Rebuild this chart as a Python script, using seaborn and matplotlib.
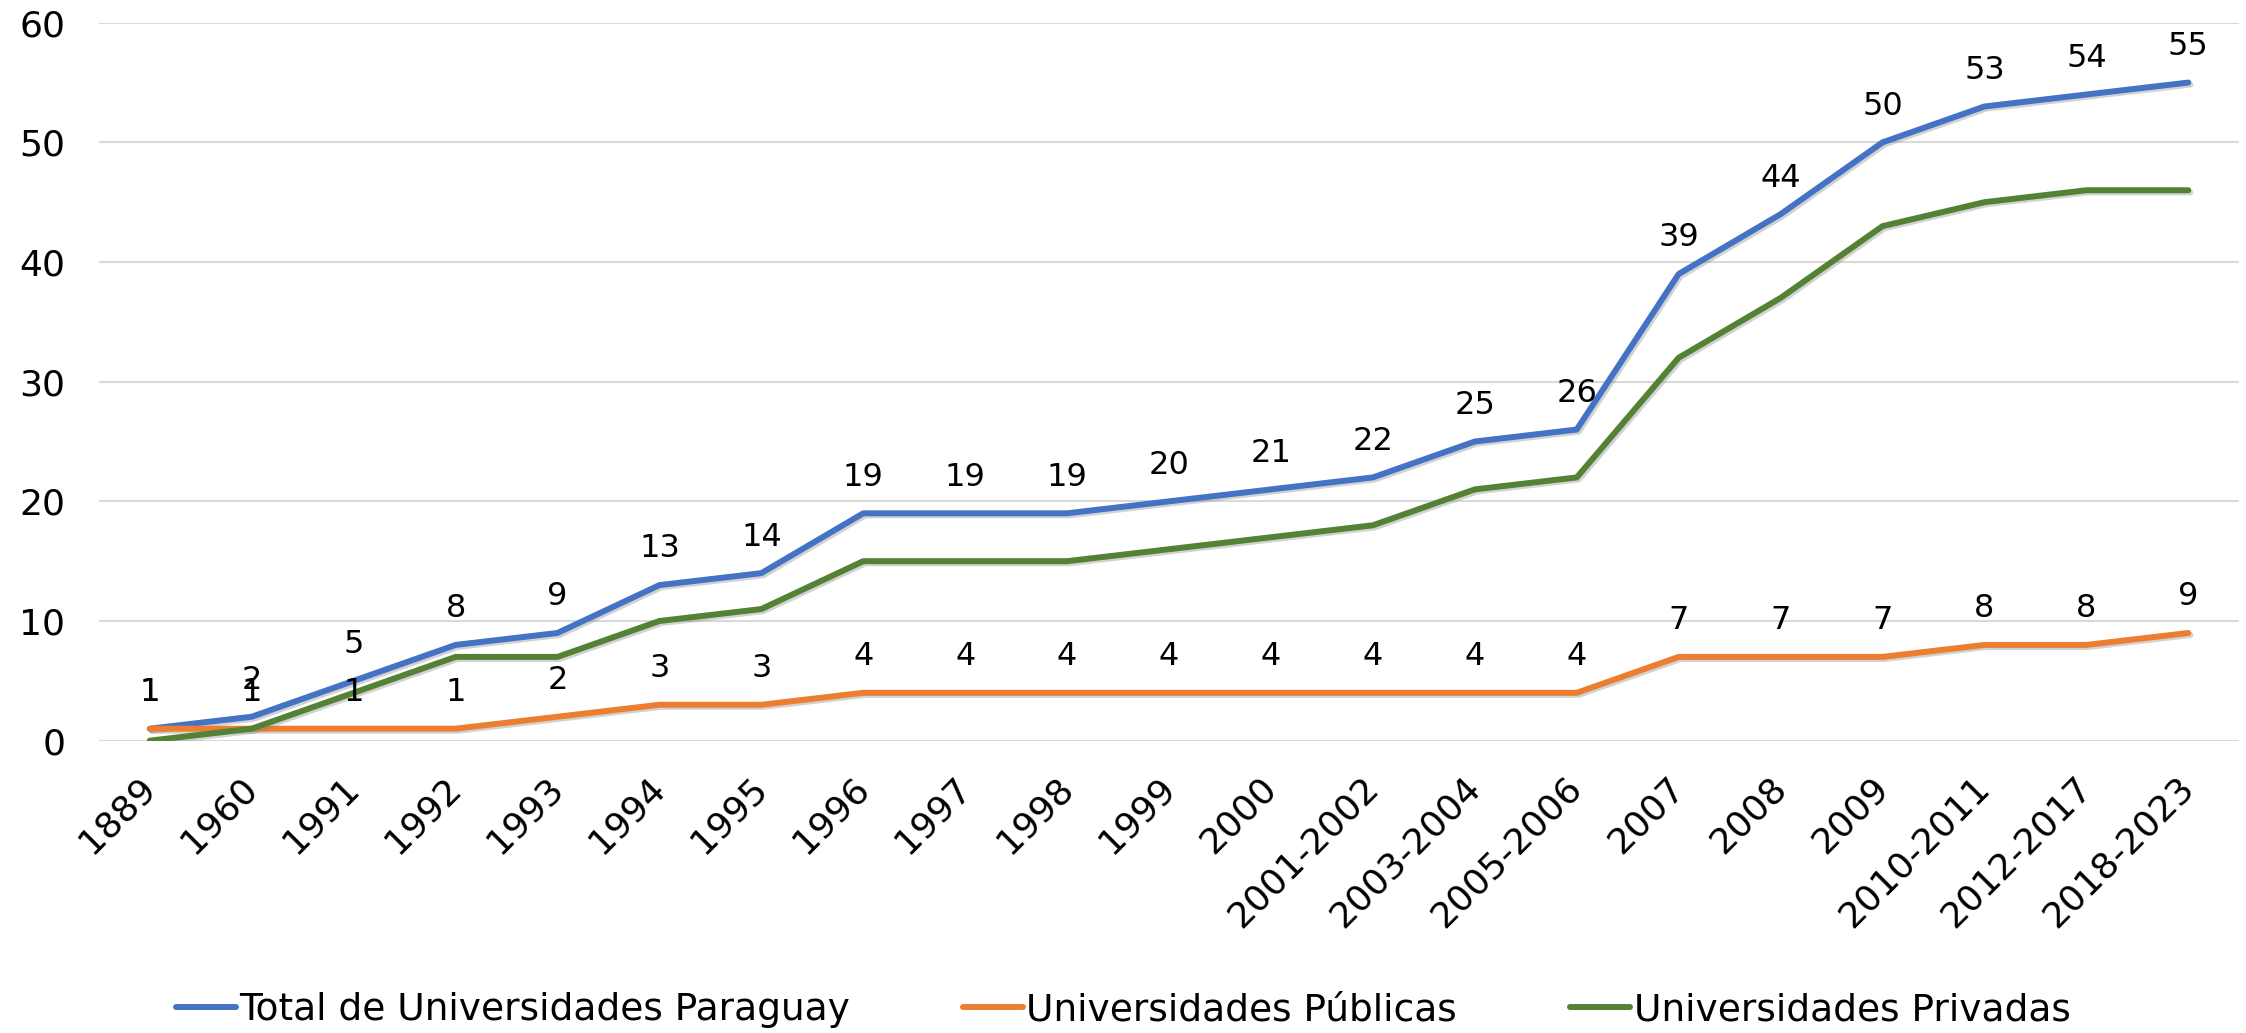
import pandas as pd
import matplotlib
matplotlib.use("Agg")
import matplotlib.pyplot as plt
import matplotlib.patheffects as pe
import seaborn as sns

sns.set_theme(style="white")
plt.rcParams["font.family"] = ["DejaVu Sans"]
plt.rcParams["text.color"] = "black"

# -----------------------------
# DATA
# -----------------------------
years = ["1889", "1960", "1991", "1992", "1993", "1994", "1995", "1996", "1997",
         "1998", "1999", "2000", "2001-2002", "2003-2004", "2005-2006", "2007",
         "2008", "2009", "2010-2011", "2012-2017", "2018-2023"]
total = [1, 2, 5, 8, 9, 13, 14, 19, 19, 19, 20, 21, 22, 25, 26, 39, 44, 50, 53, 54, 55]
publicas = [1, 1, 1, 1, 2, 3, 3, 4, 4, 4, 4, 4, 4, 4, 4, 7, 7, 7, 8, 8, 9]
privadas = [0, 1, 4, 7, 7, 10, 11, 15, 15, 15, 16, 17, 18, 21, 22, 32, 37, 43, 45, 46, 46]

series_names = ["Total de Universidades Paraguay", "Universidades Públicas", "Universidades Privadas"]
colors = ["#4472C4", "#ED7D31", "#548235"]

df = pd.DataFrame({"Año": years * 3,
                   "Valor": total + publicas + privadas,
                   "Serie": [series_names[0]] * len(years) + [series_names[1]] * len(years)
                   + [series_names[2]] * len(years)})

# -----------------------------
# PLOT
# -----------------------------
fig, ax = plt.subplots(figsize=(22.46, 10.33), dpi=100)
fig.subplots_adjust(left=0.044, right=0.997, top=0.978, bottom=0.283)

sns.lineplot(data=df, x="Año", y="Valor", hue="Serie", palette=colors,
             linewidth=4.3, sort=False, ax=ax, legend=True)

shadow = [pe.SimpleLineShadow(offset=(1.5, -1.5), shadow_color="gray", alpha=0.35), pe.Normal()]
for line in ax.lines:
    line.set_solid_capstyle("round")
    line.set_solid_joinstyle("round")
    line.set_path_effects(shadow)

# data labels for total and public
for vals in [total, publicas]:
    for i, v in enumerate(vals):
        ax.annotate(str(v), (i, v), xytext=(0, 26), textcoords="offset points",
                    ha="center", va="center", fontsize=23, color="black")

ax.set_ylim(0, 60)
ax.set_xlim(-0.5, len(years) - 0.5)
ax.set_yticks(range(0, 61, 10))
ax.yaxis.grid(True, color="#D9D9D9", linewidth=1.5)
ax.xaxis.grid(False)
for s in ax.spines.values():
    s.set_visible(False)
ax.set_xlabel("")
ax.set_ylabel("")
ax.tick_params(axis="both", length=0, labelsize=26, colors="black")
ax.tick_params(axis="y", pad=24)
ax.tick_params(axis="x", pad=30)
plt.setp(ax.get_xticklabels(), rotation=45, ha="right", va="center", rotation_mode="anchor")

handles, labels = ax.get_legend_handles_labels()
for h in handles:
    h.set_path_effects([])
    h.set_solid_capstyle("round")
ax.legend_.remove()
fig.legend(handles, labels, loc="center", bbox_to_anchor=(0.5, 0.022), ncol=3,
           frameon=False, fontsize=27, handlelength=1.6, handletextpad=0.1,
           columnspacing=3.0, labelcolor="black")

plt.savefig("out.png", dpi=100)
